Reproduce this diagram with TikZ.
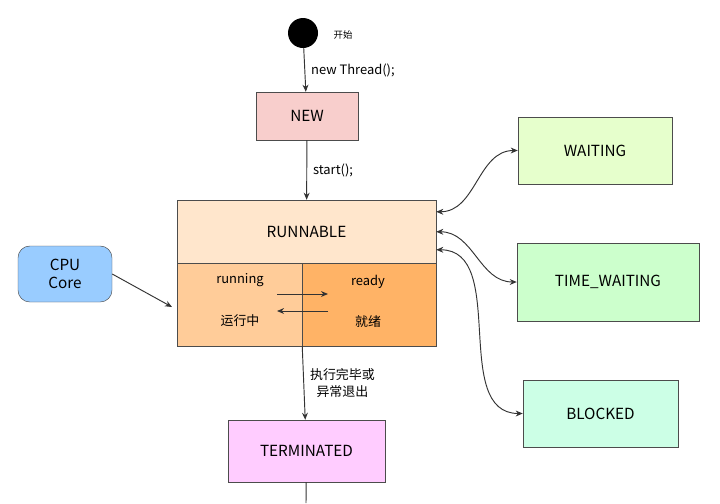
\documentclass[tikz,border=0pt]{standalone}
\usepackage{fontspec}
\setmainfont{Noto Sans CJK SC}
\usetikzlibrary{arrows.meta,positioning}
\definecolor{newred}{HTML}{F8CECC}
\definecolor{runtop}{HTML}{FFE6CC}
\definecolor{runleft}{HTML}{FFCC99}
\definecolor{runright}{HTML}{FFB366}
\definecolor{cpublue}{HTML}{99CCFF}
\definecolor{waitgreen}{HTML}{E6FFCC}
\definecolor{timegreen}{HTML}{CCFFCC}
\definecolor{blockgreen}{HTML}{CCFFE6}
\definecolor{termpink}{HTML}{FFCCFF}

\begin{document}
\begin{tikzpicture}[x=0.85pt, y=-0.85pt,
            box/.style={rectangle, draw=black!70, text centered, font=\fontsize{13}{15}\selectfont, align=center, inner sep=0pt},
            lbl/.style={font=\fontsize{11}{14}\selectfont, align=center, inner sep=1pt},
            arrow/.style={-{Stealth[length=6pt,width=5pt]}, draw=black!80, thick}
        ]
            \useasboundingbox (0,0) rectangle (720,503);
            \fill[white] (0,0) rectangle (720,503);
            \node[circle, fill=black, minimum size=30*0.85pt, inner sep=0pt] (start) at (303,33) {};
            \node[lbl, font=\fontsize{8}{10}\selectfont] (startlbl) at (343,35) {开始};
            \node[box, fill=newred, minimum width=102*0.85pt, minimum height=48*0.85pt] (new) at (307,116) {NEW};
            \node[box, fill=runtop, minimum width=259*0.85pt, minimum height=63*0.85pt] (runnable) at (306.5,231.5) {RUNNABLE};
            \node[box, fill=runleft, minimum width=125*0.85pt, minimum height=83*0.85pt] (running) at (239.5,304.5) {};
            \node[box, fill=runright, minimum width=134*0.85pt, minimum height=83*0.85pt] (ready) at (369,304.5) {};
            \node[lbl] (runlbl) at (240,280) {running};
            \node[lbl] (runcn) at (240,321) {运行中};
            \node[lbl] (readylbl) at (368,282) {ready};
            \node[lbl] (readycn) at (368,322) {就绪};
            \coordinate (sw1) at (277,294);
            \coordinate (sw2) at (328,294);
            \coordinate (sw3) at (328,311);
            \coordinate (sw4) at (277,311);
            \node[box, fill=cpublue, rounded corners=10pt, minimum width=94*0.85pt, minimum height=56*0.85pt] (cpu) at (65,274) {CPU\\Core};
            \coordinate (cpuin) at (172,307);
            \node[box, fill=waitgreen, minimum width=154*0.85pt, minimum height=67*0.85pt] (waiting) at (595,150.5) {WAITING};
            \node[box, fill=timegreen, minimum width=182*0.85pt, minimum height=78*0.85pt] (timewait) at (608,282) {TIME\_WAITING};
            \node[box, fill=blockgreen, minimum width=155*0.85pt, minimum height=67*0.85pt] (blocked) at (600.5,413.5) {BLOCKED};
            \node[box, fill=termpink, minimum width=157*0.85pt, minimum height=62*0.85pt] (term) at (306.5,451) {TERMINATED};
            \coordinate (bottom) at (306,503);

            \draw[arrow] (start) -- node[lbl, right=4pt] {new Thread();} (new);
            \draw[arrow] (new) -- node[lbl, right=4pt] {start();} (runnable);
            \draw[arrow] (sw1) -- (sw2);
            \draw[arrow] (sw3) -- (sw4);
            \draw[arrow] (cpu.east) -- (cpuin);
            \draw[arrow] (running.south east) -- node[lbl, right=4pt] {执行完毕或\\异常退出} (term);
            \draw[thick, black!80] (term) -- (bottom);
            \draw[arrow, {Stealth[length=6pt,width=5pt]}-{Stealth[length=6pt,width=5pt]}] ([yshift=-12*0.85pt]runnable.north east) to[out=0, in=180] (waiting.west);
            \draw[arrow, {Stealth[length=6pt,width=5pt]}-{Stealth[length=6pt,width=5pt]}] ([yshift=-32*0.85pt]runnable.north east) to[out=0, in=180] (timewait.west);
            \draw[arrow, {Stealth[length=6pt,width=5pt]}-{Stealth[length=6pt,width=5pt]}] ([yshift=-50*0.85pt]runnable.north east) to[out=0, in=180] (blocked.west);
        \end{tikzpicture}
\end{document}
